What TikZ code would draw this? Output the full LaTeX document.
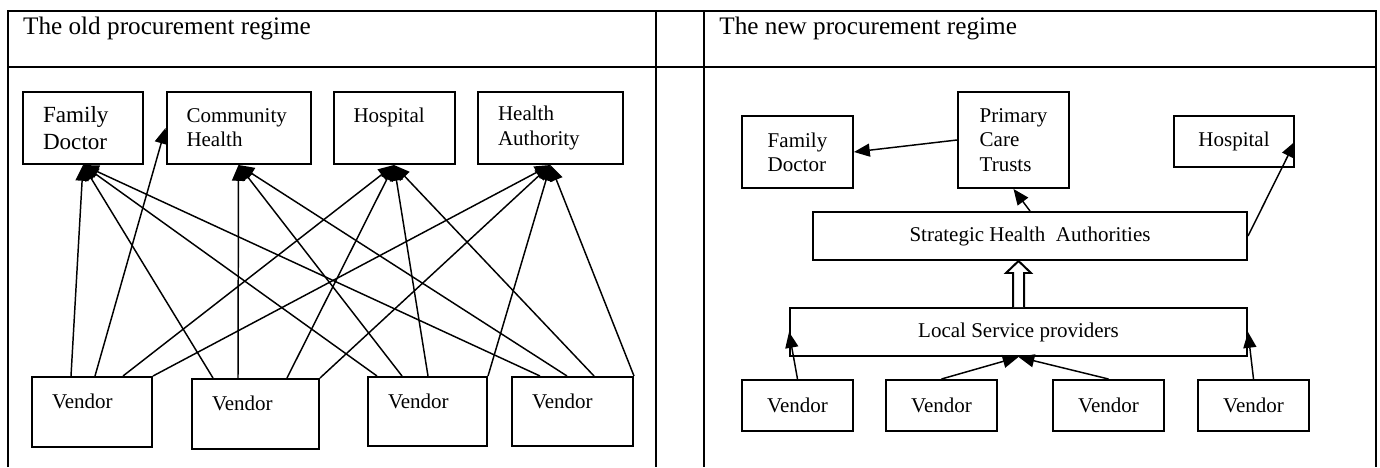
\documentclass[tikz,border=0pt]{standalone}
\usepackage{fontspec}
\setmainfont{Liberation Serif}
\usepackage{tikz}
\usetikzlibrary{calc,arrows.meta}
\tikzset{
  frame/.style={draw=black, line width=1.1pt},
  box/.style={draw=black, line width=0.95pt, inner sep=0pt, align=left, font=\fontsize{10}{11.5}\selectfont},
  lbox/.style={box, inner xsep=20*\pxl},
  conn/.style={draw=black, line width=0.7pt, -{Triangle[length=7.5pt,width=6.2pt]}},
  hollow/.style={draw=black, line width=0.95pt, line join=miter, fill=white},
  head/.style={anchor=base west, inner sep=0pt, font=\fontsize{12}{14}\selectfont},
}

\begin{document}
\begin{tikzpicture}[x=0.476pt, y=-0.476pt]
  \def\pxl{0.476pt}
  \useasboundingbox (0,0) rectangle (1380,467);
  % table
  \draw[frame] (7.7,467) -- (7.7,11) -- (1376,11) -- (1376,467);
  \draw[frame] (7.7,66.7) -- (1376,66.7);
  \draw[frame] (656,11) -- (656,467);
  \draw[frame] (704,11) -- (704,467);
  \node[head] (oldT) at (22.7,35) {The old procurement regime};
  \node[head] (newT) at (719,35) {The new procurement regime};

  % old regime
  \node[lbox, text width=80*\pxl, minimum height=72*\pxl, font=\fontsize{11}{13.2}\selectfont] (fdL) at (83,128) {Family\\Doctor};
  \node[lbox, text width=104*\pxl, minimum height=72*\pxl] (chL) at (238.5,128) {Community\\Health};
  \node[lbox, text width=81*\pxl, text height=30*\pxl, text depth=42*\pxl] (hoL) at (394,128) {Hospital};
  \node[lbox, text width=105*\pxl, minimum height=72*\pxl] (haL) at (550.5,128) {Health\\Authority};
  \node[lbox, text width=80*\pxl, text height=31*\pxl, text depth=39*\pxl] (v1L) at (92,412) {Vendor};
  \node[lbox, text width=87*\pxl, text height=31*\pxl, text depth=39*\pxl] (v2L) at (255.5,414) {Vendor};
  \node[lbox, text width=79*\pxl, text height=31*\pxl, text depth=38*\pxl] (v3L) at (427.5,411.5) {Vendor};
  \node[lbox, text width=81*\pxl, text height=31*\pxl, text depth=38*\pxl] (v4L) at (572.5,411.5) {Vendor};

  \draw[conn] ($(v1L.north west)+(40,0)$) -- (fdL.south);
  \draw[conn] ($(v1L.north west)+(64,0)$) -- (chL.west);
  \draw[conn] ($(v1L.north west)+(92,0)$) -- (hoL.south);
  \draw[conn] (v1L.north east) -- (haL.south);
  \draw[conn] ($(v2L.north west)+(22,0)$) -- (fdL.south);
  \draw[conn] ($(v2L.north west)+(47,0)$) -- (chL.south);
  \draw[conn] ($(v2L.north west)+(96,0)$) -- (hoL.south);
  \draw[conn] (v2L.north east) -- (haL.south);
  \draw[conn] ($(v3L.north west)+(10,0)$) -- (fdL.south);
  \draw[conn] ($(v3L.north west)+(35,0)$) -- (chL.south);
  \draw[conn] ($(v3L.north west)+(61,0)$) -- (hoL.south);
  \draw[conn] (v3L.north east) -- (haL.south);
  \draw[conn] ($(v4L.north west)+(29,0)$) -- (fdL.south);
  \draw[conn] ($(v4L.north west)+(56,0)$) -- (chL.south);
  \draw[conn] ($(v4L.north west)+(83,0)$) -- (hoL.south);
  \draw[conn] (v4L.north east) -- (haL.south);

  % new regime
  \node[box, minimum width=111*\pxl, minimum height=72*\pxl] (fdR) at (797.5,152) {Family\\Doctor};
  \node[box, minimum width=111*\pxl, minimum height=96*\pxl] (pct) at (1013.5,140) {Primary\\Care\\Trusts};
  \node[box, minimum width=120*\pxl, minimum height=51*\pxl] (hoR) at (1234,141.5) {Hospital};
  \node[box, minimum width=434*\pxl, minimum height=48*\pxl] (sha) at (1030,236) {Strategic Health\ \ Authorities};
  \node[box, minimum width=457*\pxl, minimum height=48*\pxl] (lsp) at (1018.5,332) {Local Service providers};
  \node[box, minimum width=111*\pxl, minimum height=51*\pxl] (v1R) at (797.5,405.5) {Vendor};
  \node[box, minimum width=111*\pxl, minimum height=51*\pxl] (v2R) at (941.5,405.5) {Vendor};
  \node[box, minimum width=111*\pxl, minimum height=51*\pxl] (v3R) at (1108.5,405.5) {Vendor};
  \node[box, minimum width=111*\pxl, minimum height=51*\pxl] (v4R) at (1253.5,405.5) {Vendor};

  \draw[conn] (pct.west) -- (fdR.east);
  \draw[conn] (sha.north) -- (pct.south);
  \draw[conn] (sha.east) -- (hoR.east);
  \draw[conn] (v1R.north) -- (lsp.west);
  \draw[conn] (v2R.north) -- (lsp.south);
  \draw[conn] (v3R.north) -- (lsp.south);
  \draw[conn] (v4R.north) -- (lsp.east);
  \coordinate (up) at (lsp.north |- sha.south);
  \draw[hollow] ($(lsp.north)+(-5.5,0)$) -- ($(up)+(-5.5,12)$) -- ($(up)+(-12.5,12)$) -- (up)
    -- ($(up)+(12.5,12)$) -- ($(up)+(5.5,12)$) -- ($(lsp.north)+(5.5,0)$);
\end{tikzpicture}
\end{document}
